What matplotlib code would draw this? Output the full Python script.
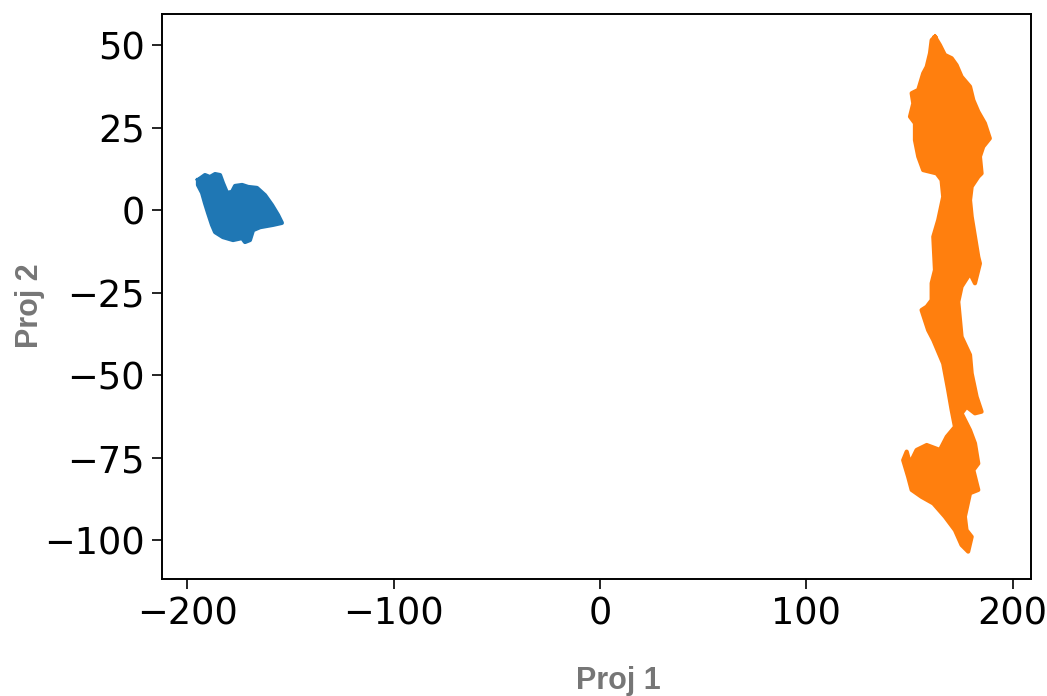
import matplotlib
matplotlib.use("Agg")
import matplotlib.pyplot as plt

# outline of the first trajectory cloud
blue_x = [-194.9, -191.5, -189.1, -186.6, -184.2, -182.8, -180.8, -178.4, -176.9, -173.5,
          -170.6, -166.3, -162.4, -159.0, -156.1, -154.2, -158.5, -164.8, -168.2, -169.7,
          -172.1, -173.5, -177.9, -182.8, -186.6, -188.1, -190.0, -191.5, -192.9, -194.9]
blue_y = [9.1, 10.6, 10.0, 10.9, 10.6, 8.2, 5.2, 5.5, 7.3, 7.6,
          7.0, 6.7, 4.5, 1.5, -1.5, -3.9, -4.5, -5.2, -6.1, -9.1,
          -9.7, -8.5, -9.1, -8.2, -6.7, -4.5, -0.9, 2.1, 5.2, 7.6]

# outline of the second trajectory cloud
orange_x = [162.4, 164.8, 167.2, 170.5, 172.9, 175.3, 179.4, 181.0, 183.4, 186.6,
            189.0, 185.8, 184.2, 185.0, 183.4, 180.2, 179.4, 180.2, 181.8, 183.4,
            184.2, 181.8, 179.4, 175.3, 173.7, 175.3, 179.4, 180.2, 182.6, 185.0,
            181.8, 177.7, 175.3, 179.4, 181.8, 183.4, 181.0, 183.4, 179.4, 176.9,
            177.7, 180.2, 178.5, 175.3, 172.1, 167.2, 161.6, 155.9, 151.1, 149.4,
            147.0, 148.7, 150.3, 153.5, 158.4, 164.8, 168.1, 172.1, 170.5, 168.8,
            166.4, 161.6, 159.1, 155.9, 158.4, 160.8, 160.8, 162.4, 161.6, 164.0,
            166.4, 165.6, 163.2, 156.7, 154.3, 152.7, 152.7, 150.3, 151.9, 151.1,
            154.3, 156.7, 158.4, 160.0, 160.8]
orange_y = [52.5, 50.0, 47.0, 46.0, 43.9, 40.4, 37.4, 33.3, 29.8, 26.3,
            21.7, 19.2, 16.2, 11.1, 10.1, 7.1, 3.0, -2.0, -8.1, -14.2,
            -16.2, -22.2, -19.2, -23.2, -27.8, -38.4, -43.9, -49.5, -56.6, -61.1,
            -61.6, -59.6, -61.6, -66.7, -70.7, -76.8, -78.8, -84.8, -85.8, -92.9,
            -97.0, -99.0, -103.5, -101.5, -97.0, -92.9, -88.9, -86.9, -84.8, -80.8,
            -75.8, -73.2, -76.8, -72.7, -71.2, -72.7, -68.7, -65.7, -60.6, -54.5,
            -46.5, -39.4, -36.4, -30.3, -29.3, -27.3, -22.2, -18.2, -8.1, -3.0,
            4.0, 9.1, 11.1, 12.1, 16.2, 21.2, 26.3, 28.3, 32.3, 35.4,
            36.4, 41.4, 43.4, 47.5, 51.5]

x_ticks = [-200, -100, 0, 100, 200]
y_ticks = [50, 25, 0, -25, -50, -75, -100]

fig = plt.figure(figsize=(10.47, 6.96), dpi=100)
ax = fig.add_axes([0.1544, 0.1681, 0.8300, 0.8118])

for xs, ys, col in [(blue_x, blue_y, "#1f77b4"), (orange_x, orange_y, "#ff7f0e")]:
    ax.fill(xs, ys, color=col, lw=0)
    ax.plot(xs + xs[:1], ys + ys[:1], color=col, lw=3.0, solid_joinstyle="round")

ax.set_xlim(-212.5, 208.8)
ax.set_ylim(-111.8, 59.4)
ax.set_xticks(x_ticks)
ax.set_yticks(y_ticks)
ax.tick_params(labelsize=26.5, length=7, width=1.2, pad=5)
for sp in ax.spines.values():
    sp.set_linewidth(1.4)

lab = dict(fontsize=22, fontweight="bold", color="#767676", family="Liberation Sans")
ax.set_xlabel("Proj 1", va="center", **lab)
ax.set_ylabel("Proj 2", va="center", **lab)
ax.xaxis.set_label_coords(0.525, -0.18)
ax.yaxis.set_label_coords(-0.152, 0.483)

fig.savefig("out.png", dpi=100)
